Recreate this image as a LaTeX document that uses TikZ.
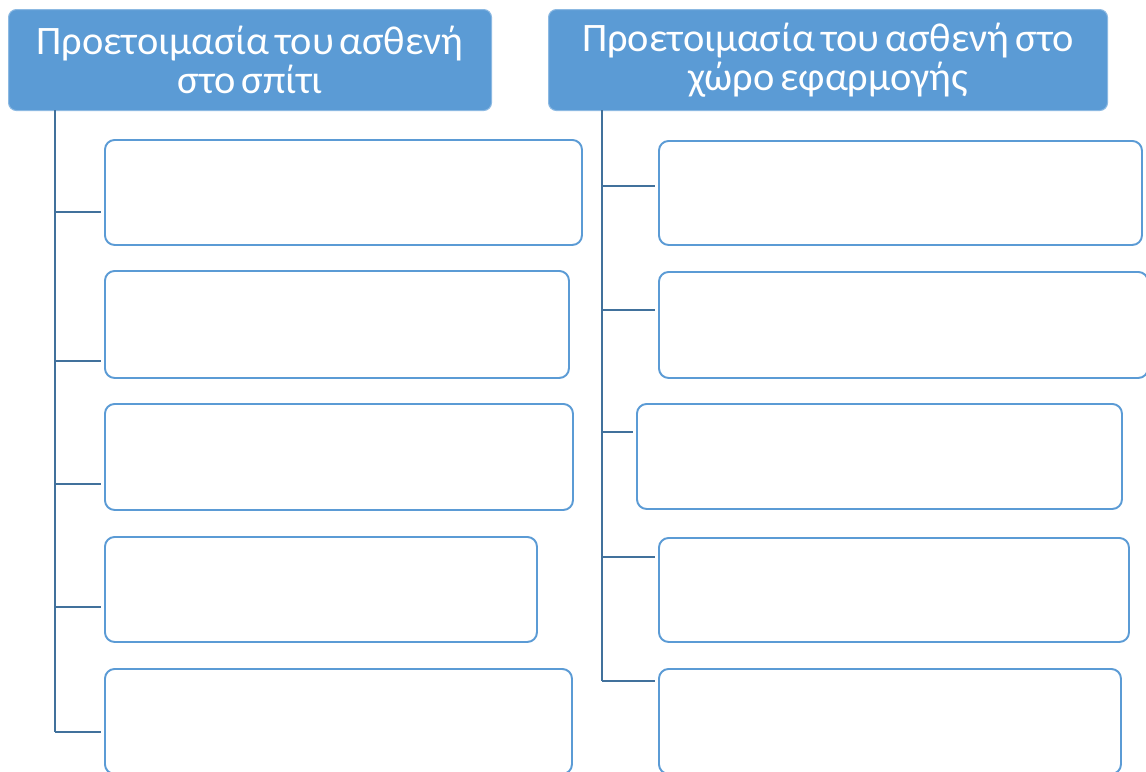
\documentclass[tikz,border=0pt]{standalone}
\usepackage{fontspec}
\setmainfont{Carlito}[WordSpace=1.6]
\usetikzlibrary{calc}
\definecolor{hdrblue}{HTML}{5B9BD5}
\definecolor{boxblue}{HTML}{5B9BD5}
\definecolor{linkblue}{HTML}{41719C}
\tikzset{
  ibox/.style={draw=boxblue, line width=1.1pt, rounded corners=5.5pt, fill=white, anchor=north west, inner sep=0pt},
  hbox/.style={ibox, draw=hdrblue!70!white, line width=0.6pt, fill=hdrblue, rounded corners=4.5pt, text=white, align=center},
  trunk/.style={draw=linkblue, line width=1.6pt},
}
% box from top-left (x1,y1) to bottom-right (x2,y2), in pixels
\def\ibox#1[#2](#3,#4)(#5,#6)#7{\node[#2, minimum width={(#5-#3)*0.02cm}, minimum height={(#6-#4)*0.02cm}, text width={(#5-#3-20)*0.02cm}] (#1) at (#3,#4) {#7};}

\begin{document}
\begin{tikzpicture}[x=0.02cm, y=-0.02cm]
  \useasboundingbox (0,0) rectangle (1146,771);

  %%%%% headers %%%%%
  \ibox{hl}[hbox](8,9)(491,110){\fontsize{23}{24.5}\selectfont Προετοιμασία του ασθενή\\[0.9pt]στο σπίτι}
  \ibox{hr}[hbox](548,9)(1107,110){\fontsize{23}{24.5}\selectfont Προετοιμασία του ασθενή στο\\[0.9pt]χώρο εφαρμογής}

  %%%%% left column %%%%%
  \ibox{l1}[ibox](104,139)(581,244){}
  \ibox{l2}[ibox](104,270)(568,377){}
  \ibox{l3}[ibox](104,403)(572,509){}
  \ibox{l4}[ibox](104,536)(536,641){}
  \ibox{l5}[ibox](104,668)(571,773){}

  \coordinate (lt) at (55,110);
  \coordinate (lj1) at (55,212);
  \coordinate (lj2) at (55,361);
  \coordinate (lj3) at (55,484);
  \coordinate (lj4) at (55,607);
  \coordinate (lj5) at (55,732);
  \draw[trunk] (lt) -- (lj5);
  \foreach \i in {1,...,5}
    \draw[trunk, shorten >=1.5pt] (lj\i) -- (lj\i -| l\i.west);

  %%%%% right column %%%%%
  \ibox{r1}[ibox](658,140)(1141,244){}
  \ibox{r2}[ibox](658,271)(1147,377){}
  \ibox{r3}[ibox](636,403)(1121,508){}
  \ibox{r4}[ibox](658,537)(1128,641){}
  \ibox{r5}[ibox](658,668)(1120,773){}

  \coordinate (rt) at (602,110);
  \coordinate (rj1) at (602,186);
  \coordinate (rj2) at (602,310);
  \coordinate (rj3) at (602,432);
  \coordinate (rj4) at (602,557);
  \coordinate (rj5) at (602,681);
  \draw[trunk] (rt) -- (rj5);
  \foreach \i in {1,...,5}
    \draw[trunk, shorten >=1.5pt] (rj\i) -- (rj\i -| r\i.west);
\end{tikzpicture}
\end{document}
